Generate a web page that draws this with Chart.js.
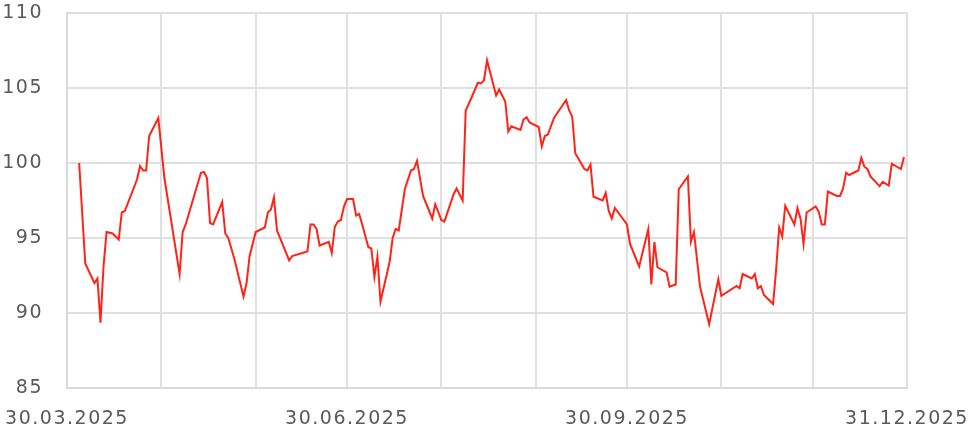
<!DOCTYPE html>
<html>
<head>
<meta charset="utf-8">
<script src="https://cdn.jsdelivr.net/npm/chart.js@4"></script>
<style>
  html, body { margin: 0; padding: 0; background: #fff; }
  #wrap { width: 968px; height: 434px; }
</style>
</head>
<body>
<div id="wrap"><canvas id="chart"></canvas></div>
<script>
// days counted from 30.03.2025
const dayOffsets = [
  4, 6, 9, 10, 11, 12, 13, 15, 17, 18, 19, 23, 24, 25, 26, 27, 30, 32, 37, 38, 39,
  44, 45, 46, 47, 48, 51, 52, 53, 55, 58, 59, 60, 62, 65, 66, 67, 68, 69, 73, 74,
  79, 80, 81, 82, 83, 86, 87, 88, 89, 90, 91, 92, 94, 95, 96, 97, 99, 100, 101, 102,
  103, 106, 107, 108, 109, 111, 113, 114, 115, 117, 120, 121, 123, 124, 127, 128, 130,
  131, 133, 135, 136, 137, 138, 141, 142, 144, 145, 146, 149, 150, 151, 152, 155, 156,
  157, 158, 160, 162, 164, 165, 166, 167, 170, 171, 172, 173, 176, 177, 178, 179, 180,
  184, 185, 186, 188, 191, 192, 193, 194, 197, 198, 200, 201, 204, 205, 206, 208, 211,
  214, 215, 220, 221, 222, 225, 226, 227, 228, 229, 232, 233, 234, 235, 236, 239, 240,
  241, 242, 243, 246, 247, 248, 249, 250, 253, 254, 255, 256, 257, 260, 261, 262, 263,
  264, 267, 268, 270, 271, 274, 275
];
const indexValues = [
  100.0, 93.3, 92.0, 92.3, 89.35, 93.1, 95.4, 95.3, 94.9, 96.7, 96.8, 98.9, 99.8, 99.5, 99.5, 101.8, 103.0, 99.0, 92.6, 95.4, 95.9,
  99.35, 99.4, 99.0, 96.0, 95.9, 97.4, 95.3, 95.0, 93.6, 91.1, 92.0, 93.8, 95.4, 95.7, 96.7, 96.9, 97.7, 95.5, 93.5, 93.8,
  94.1, 95.9, 95.9, 95.6, 94.5, 94.75, 94.0, 95.75, 96.1, 96.2, 97.1, 97.6, 97.6, 96.5, 96.6, 95.9, 94.4, 94.3, 92.4, 93.75,
  90.75, 93.4, 95.0, 95.6, 95.5, 98.25, 99.5, 99.6, 100.15, 97.8, 96.3, 97.25, 96.2, 96.1, 97.9, 98.3, 97.5,
  103.5, 104.4, 105.35, 105.3, 105.5, 106.85, 104.5, 104.9, 104.1, 102.1, 102.45, 102.2, 102.9, 103.05, 102.7, 102.4, 101.1,
  101.8, 101.9, 103.0, 103.6, 104.2, 103.5, 103.1, 100.65, 99.6, 99.5, 99.9, 97.75, 97.5, 98.0, 96.8, 96.3, 97.0,
  95.9, 94.6, 94.1, 93.1, 95.6, 91.9, 94.75, 93.05, 92.7, 91.75, 91.9, 98.25, 99.1, 94.75, 95.4, 91.75, 89.25,
  92.25, 91.15, 91.8, 91.65, 92.6, 92.3, 92.6, 91.65, 91.8, 91.2, 90.6, 92.9, 95.7, 95.1, 97.15, 95.9, 97.0,
  96.3, 94.6, 96.7, 97.1, 96.75, 95.9, 95.9, 98.1, 97.8, 97.8, 98.3, 99.35, 99.2, 99.5, 100.35, 99.75, 99.6,
  99.1, 98.45, 98.75, 98.5, 99.95, 99.6, 100.4
];
// month ends: gridlines; every third one carries a label
const monthTicks = [0, 31, 62, 92, 123, 154, 184, 215, 245, 276];
const tickLabels = ['30.03.2025', '', '', '30.06.2025', '', '', '30.09.2025', '', '', '31.12.2025'];

const points = dayOffsets.map((d, i) => ({ x: d, y: indexValues[i] }));

const spacing = {
  id: 'spacing',
  beforeDraw(chart) { chart.ctx.letterSpacing = '1.5px'; }
};

// keep the plot box fixed, labels may overflow it
const noPad = (scale) => {
  scale.paddingLeft = 0;
  scale.paddingRight = 0;
  scale.paddingTop = 0;
  scale.paddingBottom = 0;
};

new Chart(document.getElementById('chart'), {
  type: 'line',
  data: {
    datasets: [{
      data: points,
      borderColor: '#ff2318',
      borderWidth: 2,
      pointRadius: 0,
      tension: 0,
      fill: false
    }]
  },
  options: {
    responsive: true,
    maintainAspectRatio: false,
    animation: false,
    layout: { padding: { left: 0, right: 61, top: 13, bottom: 0 } },
    plugins: { legend: { display: false }, tooltip: { enabled: false } },
    scales: {
      x: {
        type: 'linear',
        min: 0,
        max: 276,
        afterBuildTicks: (scale) => { scale.ticks = monthTicks.map(v => ({ value: v })); },
        afterFit: (scale) => { scale.height = 46; noPad(scale); },
        grid: { color: '#e0e0e0', lineWidth: 2, drawTicks: false },
        border: { color: '#d9d9d9', width: 2 },
        ticks: {
          autoSkip: false,
          maxRotation: 0,
          padding: 20,
          color: '#595959',
          font: { family: 'DejaVu Sans', size: 19 },
          callback: (value, index) => tickLabels[index]
        }
      },
      y: {
        min: 85,
        max: 110,
        afterFit: (scale) => { scale.width = 67; noPad(scale); },
        grid: { color: '#e0e0e0', lineWidth: 2, drawTicks: false },
        border: { color: '#d9d9d9', width: 2 },
        ticks: {
          stepSize: 5,
          padding: 24,
          color: '#595959',
          font: { family: 'DejaVu Sans', size: 19 }
        }
      }
    }
  },
  plugins: [spacing]
});
</script>
</body>
</html>
